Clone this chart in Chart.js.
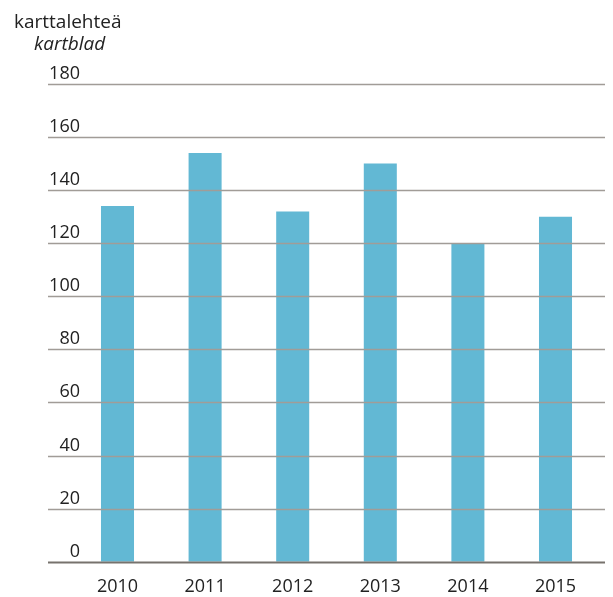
<!DOCTYPE html>
<html>
<head>
<meta charset="utf-8">
<script src="https://cdn.jsdelivr.net/npm/chart.js@4"></script>
<style>
  html, body { margin: 0; padding: 0; background: #fff; }
  #wrap { width: 613px; height: 597px; position: relative; }
</style>
</head>
<body>
<div id="wrap"><canvas id="chart" width="613" height="597"></canvas></div>
<script>
// data
var years = ['2010', '2011', '2012', '2013', '2014', '2015'];
var sheets = [134, 154, 132, 150, 120, 130];
var yTicks = [0, 20, 40, 60, 80, 100, 120, 140, 160, 180];
var unitFi = 'karttalehteä';
var unitSv = 'kartblad';

var FONT = '"Open Sans", "Noto Sans", sans-serif';
var TEXT = '#222222';

// grid lines, tick labels and unit text drawn on top of bars
var overlay = {
    id: 'overlay',
    afterDatasetsDraw: function(chart) {
        var ctx = chart.ctx;
        var y = chart.scales.y;
        var x = chart.scales.x;
        ctx.save();
        yTicks.forEach(function(v) {
            var py = Math.round(y.getPixelForValue(v)) + 0.5;
            ctx.beginPath();
            ctx.moveTo(48, py);
            ctx.lineTo(605, py);
            if (v === 0) {
                ctx.strokeStyle = '#77726d';
                ctx.lineWidth = 2;
            } else {
                ctx.strokeStyle = '#a19c97';
                ctx.lineWidth = 1.5;
            }
            ctx.stroke();
            ctx.fillStyle = TEXT;
            ctx.font = '18px ' + FONT;
            ctx.textAlign = 'right';
            ctx.textBaseline = 'alphabetic';
            ctx.fillText(String(v), 80, py - 6);
        });
        ctx.textAlign = 'center';
        years.forEach(function(lbl, i) {
            ctx.fillText(lbl, x.getPixelForValue(i), 592);
        });
        ctx.textAlign = 'left';
        ctx.font = '19px ' + FONT;
        ctx.fillText(unitFi, 14, 28);
        ctx.font = 'italic 19px ' + FONT;
        ctx.fillText(unitSv, 34, 50);
        ctx.restore();
    }
};

var ctx = document.getElementById('chart').getContext('2d');
var config = {
    type: 'bar',
    data: {
        labels: years,
        datasets: [{
            data: sheets,
            backgroundColor: '#62b8d4',
            borderWidth: 0,
            barPercentage: 0.377,
            categoryPercentage: 1
        }]
    },
    options: {
        responsive: false,
        animation: false,
        layout: { padding: { left: 73.7, right: 13.7, top: 84, bottom: 35.3 } },
        scales: {
            x: { display: false, offset: true },
            y: { display: false, min: 0, max: 180 }
        },
        plugins: {
            legend: { display: false },
            tooltip: { enabled: false }
        }
    },
    plugins: [overlay]
};

var sheetChart = new Chart(ctx, config);
</script>
</body>
</html>
